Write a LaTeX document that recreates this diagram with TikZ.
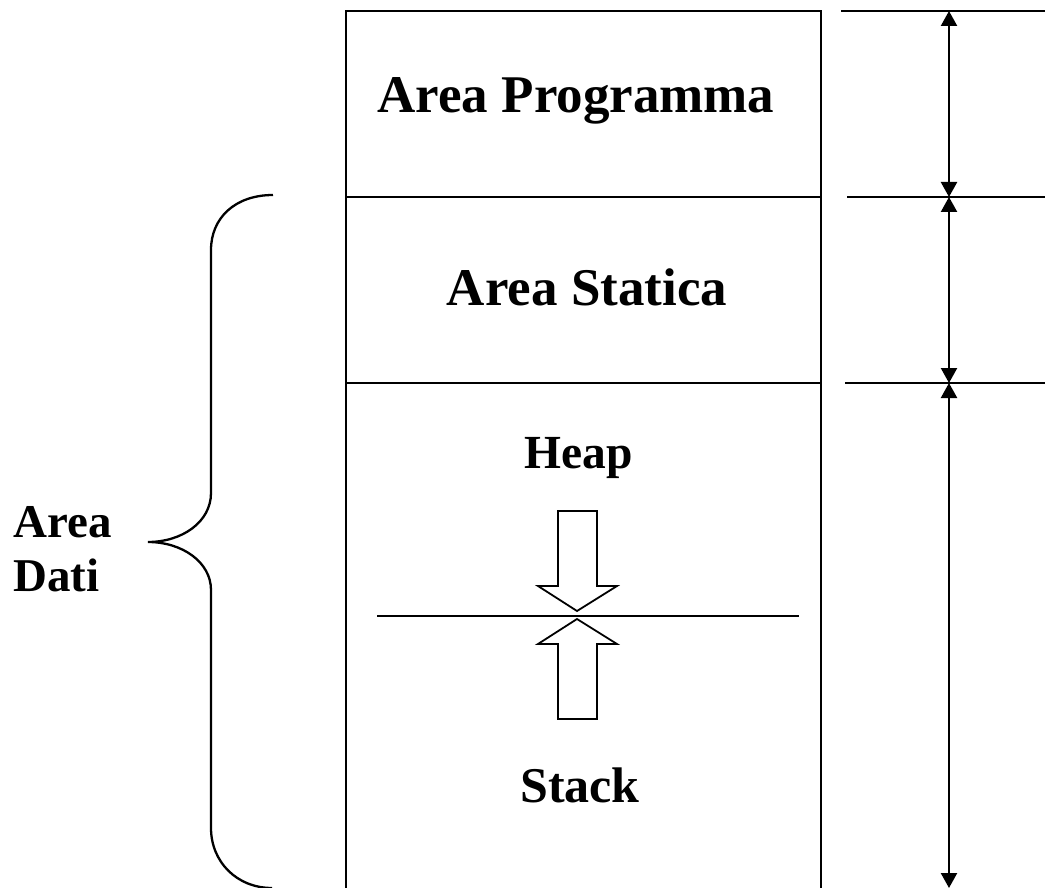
\documentclass[tikz,border=0pt]{standalone}
\usepackage{fontspec}
\setmainfont{Liberation Serif}
\usetikzlibrary{arrows.meta}
\tikzset{
  lbl/.style={font=\bfseries, anchor=base, inner sep=0pt},
  lbll/.style={font=\fontsize{47}{54}\selectfont\bfseries, anchor=base west, inner sep=0pt},
  wall/.style={line width=2.3pt},
  dim/.style={line width=2.3pt, {Triangle[width=16pt,length=15pt]}-{Triangle[width=16pt,length=15pt]}},
  blockarrow/.style={line width=1.8pt, line join=miter},
}
\begin{document}
\begin{tikzpicture}[x=1pt,y=-1pt]
\useasboundingbox (0,0) rectangle (1045,888);
% main column
\draw[wall] (346,888) -- (346,11) -- (821,11) -- (821,888);
\draw[wall] (346,197) -- (821,197);
\draw[wall] (346,383) -- (821,383);
% right dimension ticks
\coordinate (t1) at (949,11);
\coordinate (t2) at (949,197);
\coordinate (t3) at (949,383);
\coordinate (t4) at (949,888);
\draw[wall] (841,11) -- (1045,11);
\draw[wall] (847,197) -- (1045,197);
\draw[wall] (845,383) -- (1045,383);
\draw[dim] (t1) -- (t2);
\draw[dim] (t2) -- (t3);
\draw[dim] (t3) -- (t4);
% labels
\node[lbl, font=\fontsize{53}{60}\selectfont\bfseries] (prog) at (576,113) {Area Programma};
\node[lbl, font=\fontsize{53}{60}\selectfont\bfseries] (stat) at (587,305) {Area Statica};
\node[lbl, font=\fontsize{47.5}{54}\selectfont\bfseries] (heap) at (579,468) {Heap};
\node[lbl, font=\fontsize{50}{56}\selectfont\bfseries] (stack) at (580,802) {Stack};
\node[lbll] (dati1) at (13,537) {Area};
\node[lbll] (dati2) at (13,591) {Dati};
% heap / stack arrows
\draw[blockarrow] (558,511) -- (597,511) -- (597,586) -- (617,586) -- (577,611) -- (538,586) -- (558,586) -- cycle;
\draw[blockarrow] (577,619) -- (617,644) -- (597,644) -- (597,719) -- (558,719) -- (558,644) -- (538,644) -- cycle;
\draw[line width=1.8pt] (377,616) -- (799,616);
% brace
\draw[line width=2.3pt] (273,195) .. controls (235,195) and (211,218) .. (211,250)
  -- (211,493) .. controls (211,522) and (182,542) .. (148,542)
  .. controls (182,542) and (211,562) .. (211,590)
  -- (211,828) .. controls (211,862) and (237,888) .. (272,888);
\end{tikzpicture}
\end{document}
